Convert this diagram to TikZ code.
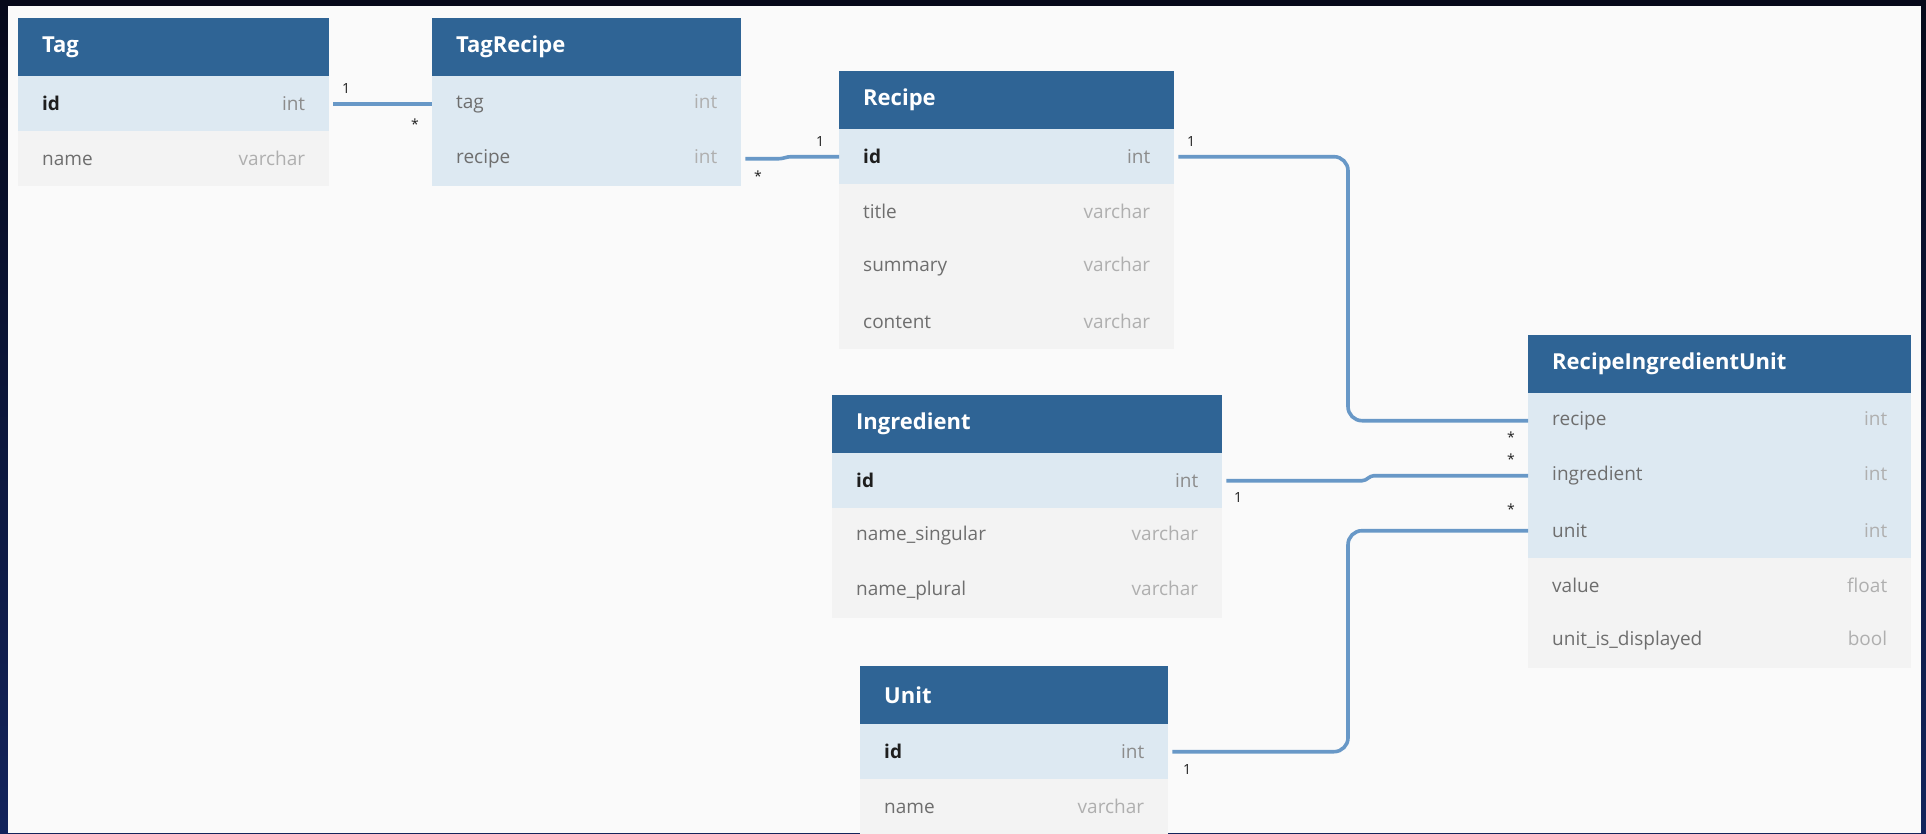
\documentclass[tikz,border=0pt]{standalone}
\usepackage{fontspec}
\setmainfont{Open Sans}
\definecolor{framedark}{RGB}{6,9,26}
\definecolor{framenavy}{RGB}{19,36,92}
\definecolor{canvas}{RGB}{250,250,250}
\definecolor{hdrblue}{RGB}{47,100,149}
\definecolor{keyblue}{RGB}{221,233,242}
\definecolor{rowgray}{RGB}{243,243,243}
\definecolor{fieldgray}{RGB}{110,110,110}
\definecolor{pkink}{RGB}{30,30,30}
\definecolor{pktype}{RGB}{140,140,140}
\definecolor{typegray}{RGB}{175,175,175}
\definecolor{linkblue}{RGB}{104,152,199}
\begin{document}
\begin{tikzpicture}[x=1pt, y=-1pt,
  hdr/.style={anchor=north west, fill=hdrblue, text=white, minimum height=58pt,
    inner xsep=24pt, inner ysep=0pt, align=left, font=\fontsize{22}{26}\selectfont\bfseries},
  keyrow/.style={anchor=north west, fill=keyblue, text=fieldgray, minimum height=55pt,
    inner xsep=24pt, inner ysep=0pt, align=left, font=\fontsize{19}{23}\selectfont},
  plainrow/.style={keyrow, fill=rowgray},
  link/.style={draw=linkblue, line width=3.6pt, rounded corners=14pt},
  jog/.style={draw=linkblue, line width=3.6pt},
  card/.style={text=pkink, inner sep=0pt, font=\fontsize{14}{16}\selectfont}]
% frame and canvas
\fill[top color=framedark, bottom color=framenavy] (0,0) rectangle (1926,833);
\fill[canvas] (8,6) rectangle (1921,833);
\useasboundingbox (0,0) rectangle (1926,833);

% Tag
\node[hdr, text width=263pt] (tag) at (18,18) {Tag};
\node[keyrow, text width=263pt] (tagid) at (18,76) {\textbf{\color{pkink}id}\hfill\textcolor{pktype}{int}};
\node[plainrow, text width=263pt] (tagname) at (18,131) {name\hfill\textcolor{typegray}{varchar}};

% TagRecipe
\node[hdr, text width=261pt] (tr) at (432,18) {TagRecipe};
\node[keyrow, text width=261pt] (trtag) at (432,76) {tag\hfill\textcolor{typegray}{int}};
\node[keyrow, text width=261pt] (trrecipe) at (432,131) {recipe\hfill\textcolor{typegray}{int}};

% Recipe
\node[hdr, text width=287pt] (rec) at (839,71) {Recipe};
\node[keyrow, text width=287pt] (recid) at (839,129) {\textbf{\color{pkink}id}\hfill\textcolor{pktype}{int}};
\node[plainrow, text width=287pt] (rectitle) at (839,184) {title\hfill\textcolor{typegray}{varchar}};
\node[plainrow, text width=287pt] (recsummary) at (839,239) {summary\hfill\textcolor{typegray}{varchar}};
\node[plainrow, text width=287pt] (reccontent) at (839,294) {content\hfill\textcolor{typegray}{varchar}};

% Ingredient
\node[hdr, text width=342pt] (ing) at (832,395) {Ingredient};
\node[keyrow, text width=342pt] (ingid) at (832,453) {\textbf{\color{pkink}id}\hfill\textcolor{pktype}{int}};
\node[plainrow, text width=342pt] (ingsingular) at (832,508) {name\_singular\hfill\textcolor{typegray}{varchar}};
\node[plainrow, text width=342pt] (ingplural) at (832,563) {name\_plural\hfill\textcolor{typegray}{varchar}};

% Unit
\node[hdr, text width=260pt] (unit) at (860,666) {Unit};
\node[keyrow, text width=260pt] (unitid) at (860,724) {\textbf{\color{pkink}id}\hfill\textcolor{pktype}{int}};
\node[plainrow, text width=260pt] (unitname) at (860,779) {name\hfill\textcolor{typegray}{varchar}};

% RecipeIngredientUnit
\node[hdr, text width=335pt] (riu) at (1528,335) {RecipeIngredientUnit};
\node[keyrow, text width=335pt] (riurecipe) at (1528,393) {recipe\hfill\textcolor{typegray}{int}};
\node[keyrow, text width=335pt] (riuingredient) at (1528,448) {ingredient\hfill\textcolor{typegray}{int}};
\node[keyrow, text width=335pt] (riuunit) at (1528,503) {unit\hfill\textcolor{typegray}{int}};
\node[plainrow, text width=335pt] (riuvalue) at (1528,558) {value\hfill\textcolor{typegray}{float}};
\node[plainrow, text width=335pt] (riudisplayed) at (1528,613) {unit\_is\_displayed\hfill\textcolor{typegray}{bool}};

% references
\draw[link] ([xshift=4pt]tagid.east) -- (trtag.west);
\draw[jog] ([xshift=4pt]trrecipe.east) -- ([xshift=-60pt]trrecipe.east -| recid.west)
  to[out=0,in=180] ([xshift=-48pt]recid.west) -- (recid.west);
\draw[link] ([xshift=4pt]recid.east) -| ([xshift=-180pt]riurecipe.west) -- (riurecipe.west);
\draw[jog] ([xshift=4pt]ingid.east) -- ([xshift=-166pt]ingid.east -| riuingredient.west)
  to[out=0,in=180] ([xshift=-154pt]riuingredient.west) -- (riuingredient.west);
\draw[link] ([xshift=4pt]unitid.east) -| ([xshift=-180pt]riuunit.west) -- (riuunit.west);

% cardinalities
\node[card] (c1) at (346,88) {1};
\node[card] (c2) at (415,124) {*};
\node[card] (c3) at (758,176) {*};
\node[card] (c4) at (820,141) {1};
\node[card] (c5) at (1191,141) {1};
\node[card] (c6) at (1511,437) {*};
\node[card] (c7) at (1511,459) {*};
\node[card] (c8) at (1238,497) {1};
\node[card] (c9) at (1511,509) {*};
\node[card] (c10) at (1187,769) {1};
\end{tikzpicture}
\end{document}
